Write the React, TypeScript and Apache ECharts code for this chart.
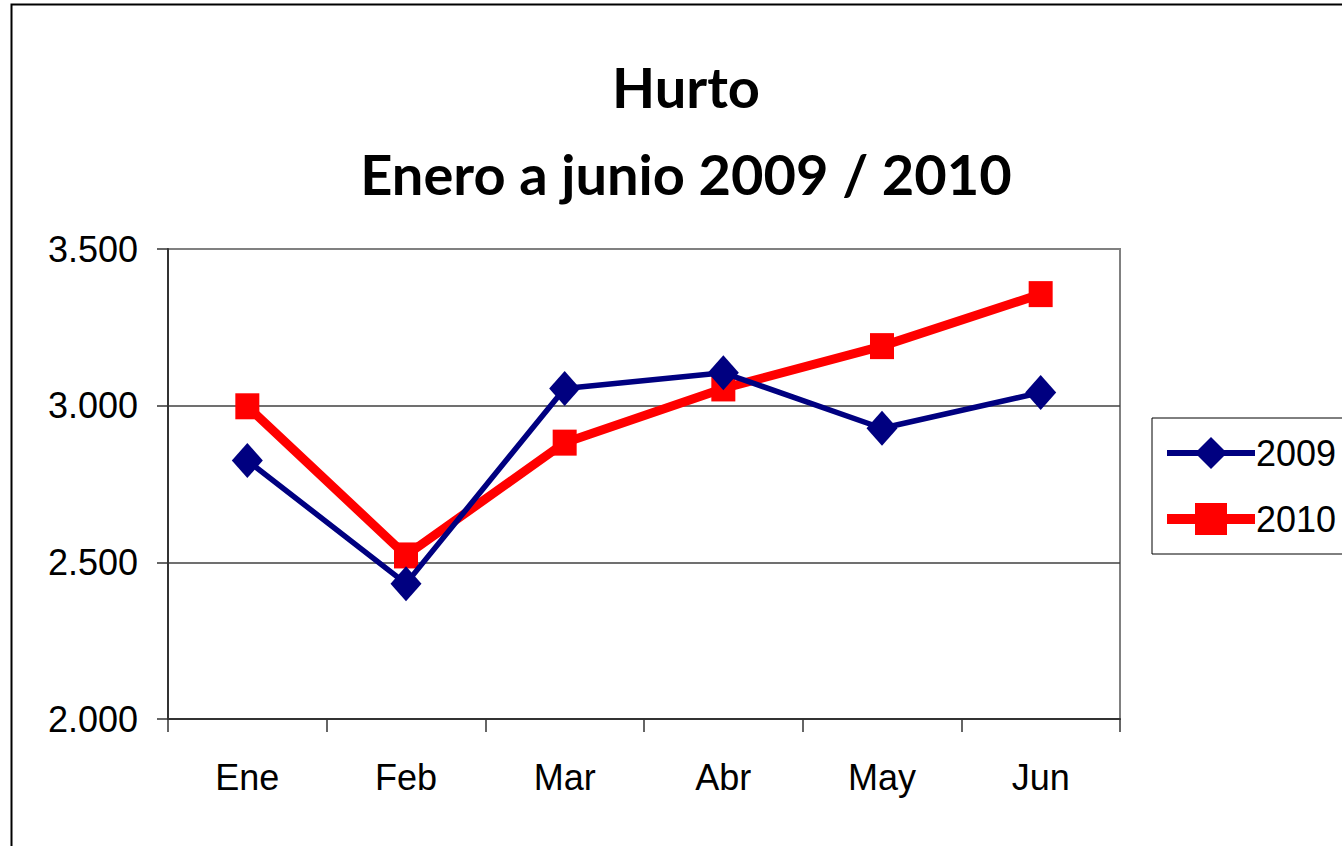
import React, { useEffect, useRef } from "react";
import * as echarts from "echarts";

const categories = ["Ene", "Feb", "Mar", "Abr", "May", "Jun"];
const values2009 = [2825, 2432, 3055, 3105, 2928, 3042];
const values2010 = [2998, 2522, 2882, 3055, 3190, 3356];
const titleLine1 = "Hurto";
const titleLine2 = "Enero a junio 2009 / 2010";

export default function App() {
  const ref = useRef<HTMLDivElement>(null);
  useEffect(() => {
    if (!ref.current) return;
    const chart = echarts.init(ref.current, null, { renderer: "svg" });
    const axisFont = { fontFamily: "Liberation Sans, Arial, sans-serif", fontSize: 36, color: "#000" };
    const titleStyle = {
      fontFamily: "Lato, 'Open Sans', sans-serif",
      fontWeight: "bold",
      fontSize: 56,
      fill: "#000",
      textAlign: "center",
      textVerticalAlign: "top",
    };
    chart.setOption({
      animation: false,
      backgroundColor: "#fff",
      graphic: [
        {
          type: "rect",
          shape: { x: 11.5, y: 4.5, width: 1400, height: 900 },
          style: { fill: "none", stroke: "#000", lineWidth: 2 },
          silent: true,
        },
        {
          type: "text",
          x: 686,
          y: 58,
          style: { ...titleStyle, text: titleLine1 },
        },
        {
          type: "text",
          x: 686,
          y: 145,
          style: { ...titleStyle, text: titleLine2 },
        },
      ],
      grid: {
        left: 168,
        top: 249,
        right: 222,
        bottom: 127,
        show: true,
        borderColor: "#808080",
        borderWidth: 2,
        backgroundColor: "transparent",
      },
      legend: {
        orient: "vertical",
        left: 1152,
        top: 418,
        borderColor: "#000",
        borderWidth: 1,
        padding: [17, 30, 17, 10],
        itemGap: 30,
        itemWidth: 88,
        itemHeight: 40,
        textStyle: { ...axisFont, padding: [0, 0, 0, -4] },
        data: [
          { name: "2009", lineStyle: { width: 6 } },
          { name: "2010", lineStyle: { width: 10 } },
        ],
      },
      xAxis: {
        type: "category",
        data: categories,
        boundaryGap: true,
        axisLine: { show: true, lineStyle: { color: "#333", width: 2 } },
        axisTick: { show: true, alignWithLabel: false, length: 13, lineStyle: { color: "#333", width: 1.5 } },
        axisLabel: { ...axisFont, margin: 40 },
        splitLine: { show: false },
      },
      yAxis: {
        type: "value",
        min: 2000,
        max: 3500,
        interval: 500,
        axisLine: { show: true, lineStyle: { color: "#333", width: 2 } },
        axisTick: { show: true, length: 11, lineStyle: { color: "#333", width: 1.5 } },
        axisLabel: {
          ...axisFont,
          margin: 30,
          formatter: (v: number) => v.toLocaleString("de-DE"),
        },
        splitLine: {
          show: true,
          lineStyle: { color: ["#404040", "#404040", "#404040", "#808080"], width: 1.5 },
        },
      },
      series: [
        {
          name: "2009",
          type: "line",
          data: values2009,
          symbol: "diamond",
          symbolSize: [31, 35],
          lineStyle: { color: "#000080", width: 5.5 },
          itemStyle: { color: "#000080" },
          z: 3,
        },
        {
          name: "2010",
          type: "line",
          data: values2010,
          symbol: "rect",
          symbolSize: [24, 26],
          lineStyle: { color: "#ff0000", width: 9 },
          itemStyle: { color: "#ff0000" },
          z: 2,
        },
      ],
    });
    return () => chart.dispose();
  }, []);
  return (
    <div
      ref={ref}
      style={{ position: "absolute", left: 0, top: 0, width: 1342, height: 846 }}
    />
  );
}
